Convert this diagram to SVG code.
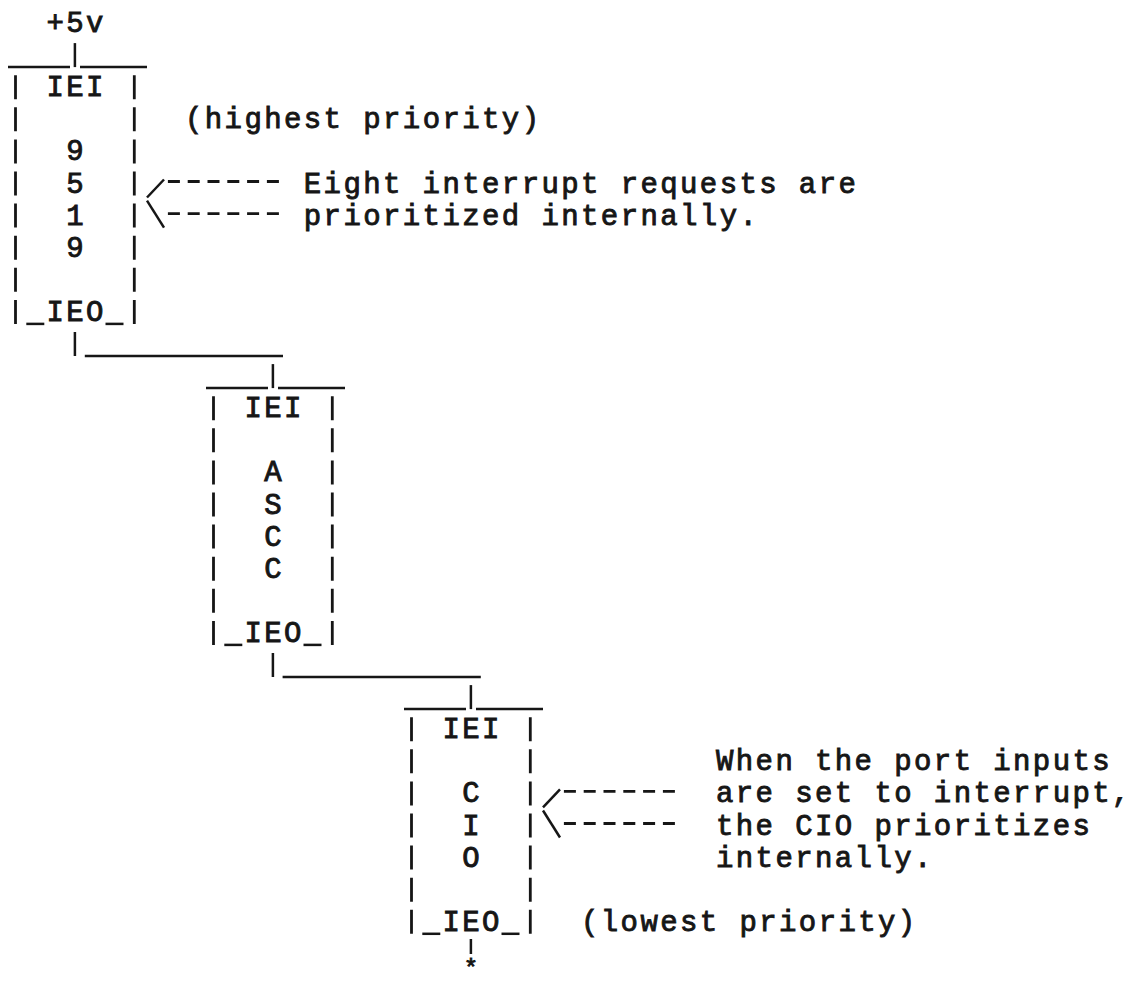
<svg xmlns="http://www.w3.org/2000/svg" width="1132" height="984" viewBox="0 0 1132 984">
<style>
  .t { font-family: "Liberation Mono", "DejaVu Sans Mono", monospace; font-size: 29px; letter-spacing: 2.4px; fill: #161616; stroke: #161616; stroke-width: 0.9px; }
  .star { font-family: "Liberation Mono", "DejaVu Sans Mono", monospace; font-size: 24px; fill: #161616; stroke: #161616; stroke-width: 0.9px; }
  .bar { stroke: #161616; stroke-width: 2.8; fill: none; stroke-dasharray: 24 8.1; }
  .ln { stroke: #161616; stroke-width: 2.5; fill: none; }
  .dsh { stroke: #161616; stroke-width: 2.8; fill: none; stroke-dasharray: 12 7.8; }
</style>
<rect x="0" y="0" width="1132" height="984" fill="#ffffff"/>

<g id="supply">
  <text class="t" x="46.4" y="32">+5v</text>
</g>

<g id="node-9519">
  <line class="ln" x1="8" y1="67.1" x2="70" y2="67.1"/>
  <line class="ln" x1="80" y1="67.1" x2="147" y2="67.1"/>
  <line class="bar" x1="15.5" y1="75.2" x2="15.5" y2="323.9"/>
  <line class="bar" x1="134.3" y1="75.2" x2="134.3" y2="323.9"/>
  <line class="ln" x1="26.3" y1="323.9" x2="44.3" y2="323.9"/>
  <line class="ln" x1="105.5" y1="323.9" x2="123.5" y2="323.9"/>
  <text class="t" x="46.4" y="96.2">IEI</text>
  <text class="t" x="66.2" y="160.4">9</text>
  <text class="t" x="66.2" y="192.5">5</text>
  <text class="t" x="66.2" y="224.6">1</text>
  <text class="t" x="66.2" y="256.7">9</text>
  <text class="t" x="46.4" y="320.9">IEO</text>
</g>

<g id="node-ascc">
  <line class="ln" x1="206" y1="388.1" x2="268" y2="388.1"/>
  <line class="ln" x1="278" y1="388.1" x2="345" y2="388.1"/>
  <line class="bar" x1="213.5" y1="396.2" x2="213.5" y2="644.9"/>
  <line class="bar" x1="332.3" y1="396.2" x2="332.3" y2="644.9"/>
  <line class="ln" x1="224.3" y1="644.9" x2="242.3" y2="644.9"/>
  <line class="ln" x1="303.5" y1="644.9" x2="321.5" y2="644.9"/>
  <text class="t" x="244.4" y="417.2">IEI</text>
  <text class="t" x="264.2" y="481.4">A</text>
  <text class="t" x="264.2" y="513.5">S</text>
  <text class="t" x="264.2" y="545.6">C</text>
  <text class="t" x="264.2" y="577.7">C</text>
  <text class="t" x="244.4" y="641.9">IEO</text>
</g>

<g id="node-cio">
  <line class="ln" x1="404" y1="709.1" x2="466" y2="709.1"/>
  <line class="ln" x1="476" y1="709.1" x2="543" y2="709.1"/>
  <line class="bar" x1="411.5" y1="717.2" x2="411.5" y2="933.8"/>
  <line class="bar" x1="530.3" y1="717.2" x2="530.3" y2="933.8"/>
  <line class="ln" x1="422.3" y1="933.8" x2="440.3" y2="933.8"/>
  <line class="ln" x1="501.5" y1="933.8" x2="519.5" y2="933.8"/>
  <text class="t" x="442.4" y="738.2">IEI</text>
  <text class="t" x="462.2" y="802.4">C</text>
  <text class="t" x="462.2" y="834.5">I</text>
  <text class="t" x="462.2" y="866.6">O</text>
  <text class="t" x="442.4" y="930.8">IEO</text>
</g>

<g id="connectors">
  <line class="ln" x1="74.9" y1="43.1" x2="74.9" y2="67.1"/>
  <line class="ln" x1="74.9" y1="332" x2="74.9" y2="356"/>
  <line class="ln" x1="84.8" y1="356" x2="283" y2="356"/>
  <line class="ln" x1="272.9" y1="364.1" x2="272.9" y2="388.1"/>
  <line class="ln" x1="272.9" y1="653" x2="272.9" y2="677"/>
  <line class="ln" x1="282.6" y1="677" x2="480.8" y2="677"/>
  <line class="ln" x1="470.9" y1="685.1" x2="470.9" y2="709.1"/>
  <line class="ln" x1="470.9" y1="939" x2="470.9" y2="954"/>
  <text class="star" x="463.7" y="976">*</text>
  <line class="ln" x1="147" y1="197.5" x2="164" y2="179.5"/>
  <line class="dsh" x1="167.9" y1="181.5" x2="278.9" y2="181.5"/>
  <line class="ln" x1="147" y1="200.6" x2="164" y2="227.6"/>
  <line class="dsh" x1="167.9" y1="213.6" x2="278.9" y2="213.6"/>
  <line class="ln" x1="543" y1="807.4" x2="560" y2="789.4"/>
  <line class="dsh" x1="563.9" y1="791.4" x2="674.9" y2="791.4"/>
  <line class="ln" x1="543" y1="810.5" x2="560" y2="837.5"/>
  <line class="dsh" x1="563.9" y1="823.5" x2="674.9" y2="823.5"/>
</g>

<g id="notes">
  <text class="t" x="185" y="128.3">(highest priority)</text>
  <text class="t" x="303.8" y="192.5">Eight interrupt requests are</text>
  <text class="t" x="303.8" y="224.6">prioritized internally.</text>
  <text class="t" x="716" y="770.3">When the port inputs</text>
  <text class="t" x="716" y="802.4">are set to interrupt,</text>
  <text class="t" x="716" y="834.5">the CIO prioritizes</text>
  <text class="t" x="716" y="866.6">internally.</text>
  <text class="t" x="581" y="930.8">(lowest priority)</text>
</g>
</svg>
